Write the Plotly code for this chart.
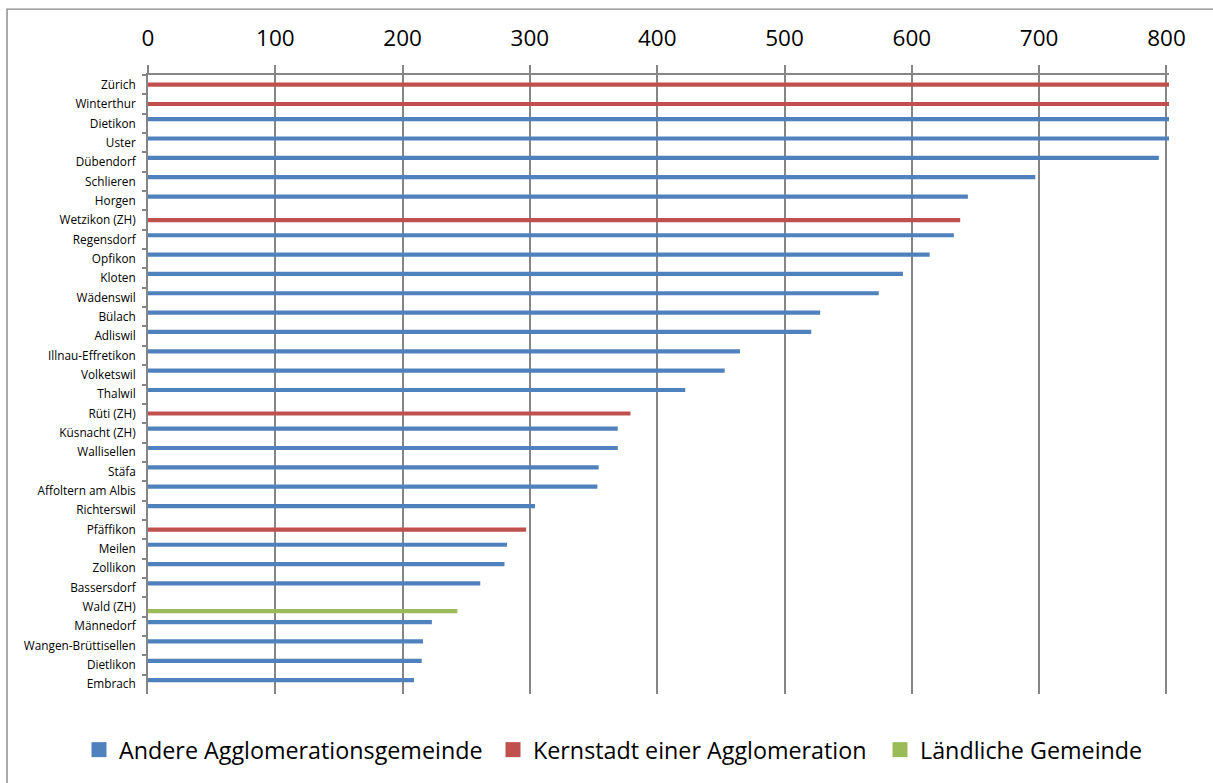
import plotly.graph_objects as go

categories = ["Zürich", "Winterthur", "Dietikon", "Uster", "Dübendorf", "Schlieren", "Horgen",
              "Wetzikon (ZH)", "Regensdorf", "Opfikon", "Kloten", "Wädenswil", "Bülach", "Adliswil",
              "Illnau-Effretikon", "Volketswil", "Thalwil", "Rüti (ZH)", "Küsnacht (ZH)", "Wallisellen",
              "Stäfa", "Affoltern am Albis", "Richterswil", "Pfäffikon", "Meilen", "Zollikon",
              "Bassersdorf", "Wald (ZH)", "Männedorf", "Wangen-Brüttisellen", "Dietlikon", "Embrach"]

values = [802, 802, 802, 802, 794, 697, 644, 638, 633, 614, 593, 574, 528, 521, 465, 453, 422,
          379, 369, 369, 354, 353, 304, 297, 282, 280, 261, 243, 223, 216, 215, 209]

types = ["K", "K", "A", "A", "A", "A", "A", "K", "A", "A", "A", "A", "A", "A", "A", "A", "A",
         "K", "A", "A", "A", "A", "A", "K", "A", "A", "A", "L", "A", "A", "A", "A"]

series_keys = ["A", "K", "L"]
series_names = {"A": "Andere Agglomerationsgemeinde",
                "K": "Kernstadt einer Agglomeration",
                "L": "Ländliche Gemeinde"}
series_colors = {"A": "#4F81BD", "K": "#C0504D", "L": "#9BBB59"}

x_ticks = [0, 100, 200, 300, 400, 500, 600, 700, 800]

W, H = 1213, 783
L, R, T, B = 148, 44, 75, 88
pw = W - L - R
ph = H - T - B

# legend text start positions (px) for each series
legend_text_px = {"A": 119, "K": 533, "L": 920}
legend_ids = {"A": "legend", "K": "legend2", "L": "legend3"}

fig = go.Figure()
for key in series_keys:
    xs = [v if t == key else None for v, t in zip(values, types)]
    fig.add_trace(go.Bar(
        y=categories, x=xs, orientation="h", name=series_names[key],
        marker=dict(color=series_colors[key], line=dict(width=0)),
        showlegend=False,
    ))
for key in series_keys:
    fig.add_trace(go.Scatter(
        x=[None], y=[None], mode="markers", name=series_names[key],
        marker=dict(symbol="square", size=15, color=series_colors[key]),
        showlegend=True, legend=legend_ids[key], hoverinfo="skip",
    ))

grid = "#868686"
legend_y = -(750 - (H - B)) / ph
leg_common = dict(orientation="h", xanchor="left", y=legend_y, yanchor="middle",
                  font=dict(size=23.3, family="Open Sans", color="#000000"),
                  bgcolor="rgba(0,0,0,0)", borderwidth=0)
legends = {}
for key in series_keys:
    legends[legend_ids[key]] = dict(x=(legend_text_px[key] - 40 - L) / pw, **leg_common)

fig.update_layout(
    width=W, height=H,
    margin=dict(l=L, r=R, t=T, b=B, pad=0),
    paper_bgcolor="white", plot_bgcolor="white",
    barmode="group", bargap=0.35, bargroupgap=0.0,
    font=dict(family="Open Sans", color="#000000"),
    showlegend=True,
    xaxis=dict(side="top", range=[0, 802], tickvals=x_ticks, ticktext=[str(v) for v in x_ticks],
               showgrid=True, gridcolor=grid, gridwidth=1.8, zeroline=False,
               showline=True, linecolor=grid, linewidth=1.8,
               ticks="outside", ticklen=8, tickcolor=grid, tickwidth=1.8,
               tickfont=dict(size=22.5, family="Open Sans", color="#000000"),
               ticklabelstandoff=10, fixedrange=True),
    yaxis=dict(autorange="reversed", type="category", categoryorder="array", categoryarray=categories,
               showgrid=False, zeroline=False, showline=True, linecolor=grid, linewidth=1.8,
               ticks="outside", ticklen=4, tickcolor=grid, tickwidth=1.8, tickson="boundaries",
               tickfont=dict(size=11.8, family="Open Sans", color="#000000"),
               ticklabelstandoff=8, fixedrange=True),
    shapes=[dict(type="rect", xref="paper", yref="paper",
                 x0=(7 - L) / pw, x1=(W + 5 - L) / pw,
                 y0=-(B + 5) / ph, y1=1 + (T - 9) / ph,
                 line=dict(color=grid, width=1.4), fillcolor="rgba(0,0,0,0)", layer="below")],
    **legends,
)

fig.write_html("out.html")
